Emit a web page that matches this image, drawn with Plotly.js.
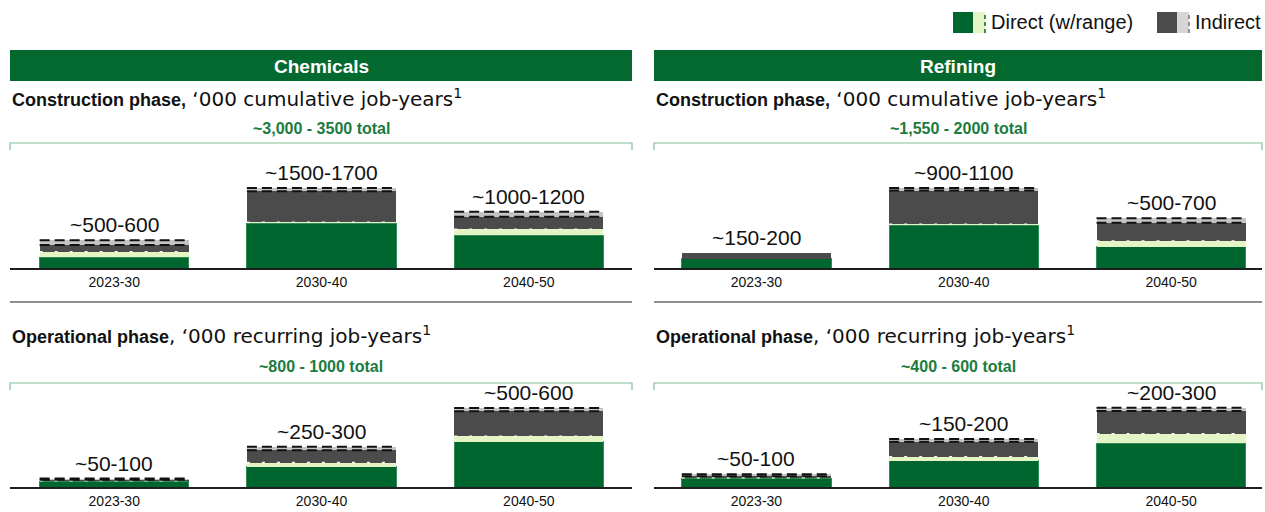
<!DOCTYPE html>
<html>
<head>
<meta charset="utf-8">
<script src="https://cdn.plot.ly/plotly-3.0.1.min.js"></script>
<style>html,body{margin:0;padding:0;background:#fff;}#chart{width:1265px;height:512px;}</style>
</head>
<body>
<div id="chart"></div>
<script>
// ---------------- DATA ----------------
const categories = ['2023-30', '2030-40', '2040-50'];

// Chemicals – construction phase ('000 cumulative job-years)
const chemConsDirect        = [227, 950, 701];
const chemConsDirectRange   = [119, 20, 121];
const chemConsIndirect      = [142, 660, 268];
const chemConsIndirectRange = [100, 70, 106];
const chemConsLabels        = ['~500-600', '~1500-1700', '~1000-1200'];
const chemConsTotal         = '~3,000 - 3500 total';

// Refining – construction phase
const refConsDirect        = [124, 590, 293];
const refConsDirectRange   = [0, 10, 78];
const refConsIndirect      = [78, 465, 252];
const refConsIndirectRange = [0, 35, 62];
const refConsLabels        = ['~150-200', '~900-1100', '~500-700'];
const refConsTotal         = '~1,550 - 2000 total';

// Chemicals – operational phase ('000 recurring job-years)
const chemOpDirect        = [45, 153, 345];
const chemOpDirectRange   = [3, 33, 41];
const chemOpIndirect      = [8, 94, 189];
const chemOpIndirectRange = [8, 26, 26];
const chemOpLabels        = ['~50-100', '~250-300', '~500-600'];
const chemOpTotal         = '~800 - 1000 total';

// Refining – operational phase
const refOpDirect        = [33, 100, 166];
const refOpDirectRange   = [2, 15, 36];
const refOpIndirect      = [6, 57, 86];
const refOpIndirectRange = [7, 10, 13];
const refOpLabels        = ['~50-100', '~150-200', '~200-300'];
const refOpTotal         = '~400 - 600 total';

const sectorNames = ['Chemicals', 'Refining'];
const legendNames = ['Direct (w/range)', 'Indirect'];

// ---------------- STYLE ----------------
const W = 1265, H = 512;
const FONT = 'Liberation Sans, Arial, sans-serif';
const FONT_WIDE = 'DejaVu Sans, Liberation Sans, sans-serif';
const C = {
  dg: '#00662f', lg: '#e4f4c4', gray: '#4b4b4b', lgray: '#c4c4c4',
  header: '#04692f', totalTxt: '#1b7b40', bracket: '#7fbf96', sep: '#8e8e8e'
};
const BARW = 0.72;
const px = x => x / W;
const py = y => 1 - y / H;

const panels = [
  {ax: '', d: chemConsDirect, dr: chemConsDirectRange, i: chemConsIndirect, ir: chemConsIndirectRange, labels: chemConsLabels,
   xdom: [10, 632], xr: [-0.503, 2.498], ydom: [268, 150], yr: 2508},
  {ax: '2', d: refConsDirect, dr: refConsDirectRange, i: refConsIndirect, ir: refConsIndirectRange, labels: refConsLabels,
   xdom: [654, 1262], xr: [-0.494, 2.438], ydom: [268, 150], yr: 1622},
  {ax: '3', d: chemOpDirect, dr: chemOpDirectRange, i: chemOpIndirect, ir: chemOpIndirectRange, labels: chemOpLabels,
   xdom: [10, 632], xr: [-0.503, 2.498], ydom: [487, 390], yr: 737},
  {ax: '4', d: refOpDirect, dr: refOpDirectRange, i: refOpIndirect, ir: refOpIndirectRange, labels: refOpLabels,
   xdom: [654, 1262], xr: [-0.494, 2.438], ydom: [487, 390], yr: 368}
];

const traces = [];
const annotations = [];
const shapes = [];
const layout = {
  width: W, height: H, margin: {l: 0, r: 0, t: 0, b: 0},
  paper_bgcolor: '#fff', plot_bgcolor: 'rgba(0,0,0,0)',
  barmode: 'stack', showlegend: false,
  font: {family: FONT, color: '#111'}
};

const xs = categories.map((_, k) => k);

function dashTrace(ax, yvals, mask, color, width, dash) {
  const x = [], y = [];
  yvals.forEach((v, k) => {
    if (!mask[k]) return;
    x.push(k - BARW / 2, k + BARW / 2, null);
    y.push(v, v, null);
  });
  return {type: 'scatter', mode: 'lines', x, y, xaxis: 'x' + ax, yaxis: 'y' + ax,
          line: {color, width, dash}, hoverinfo: 'skip'};
}

panels.forEach(p => {
  const xa = 'x' + p.ax, ya = 'y' + p.ax;
  const common = {type: 'bar', x: xs, width: BARW, xaxis: xa, yaxis: ya, hoverinfo: 'skip'};
  traces.push(Object.assign({}, common, {y: p.d, marker: {color: C.dg, line: {color: '#2f8c52', width: 1}}}));
  traces.push(Object.assign({}, common, {y: p.dr, marker: {color: C.lg, line: {width: 0}}}));
  traces.push(Object.assign({}, common, {y: p.i, marker: {color: C.gray, line: {width: 0}}}));
  traces.push(Object.assign({}, common, {y: p.ir, marker: {color: C.lgray, line: {width: 0}}}));

  const dTop = p.d.map((v, k) => v + p.dr[k]);
  const iLow = p.d.map((v, k) => v + p.dr[k] + p.i[k]);
  const tot = iLow.map((v, k) => v + p.ir[k]);
  traces.push(dashTrace(p.ax, dTop, p.dr.map(v => v > 0), '#f6fbe9', 1.5, '3px,12px'));
  traces.push(dashTrace(p.ax, iLow, p.ir.map(v => v > 0), '#111', 2, '10px,5px'));
  traces.push(dashTrace(p.ax, tot, p.ir.map(v => v > 0), '#111', 2, '10px,5px'));

  p.labels.forEach((t, k) => {
    annotations.push({x: k, y: tot[k], xref: xa, yref: ya, text: t, showarrow: false,
      yanchor: 'bottom', yshift: 2, font: {size: 21, family: FONT, color: '#111'}});
  });

  layout['xaxis' + p.ax] = {
    domain: [px(p.xdom[0]), px(p.xdom[1])], range: p.xr, anchor: ya,
    tickvals: xs, ticktext: categories, ticks: '', showgrid: false, zeroline: false,
    showline: true, linecolor: '#1e1e1e', linewidth: 1.5, fixedrange: true,
    tickfont: {size: 14, family: FONT, color: '#111'}, ticklabelstandoff: 1
  };
  layout['yaxis' + p.ax] = {
    domain: [py(p.ydom[0]), py(p.ydom[1])], range: [0, p.yr], anchor: xa,
    visible: false, fixedrange: true
  };
});

// ---------------- DECORATION ----------------
function paperText(x, y, text, size, color, xanchor) {
  annotations.push({xref: 'paper', yref: 'paper', x: px(x), y: py(y), text, showarrow: false,
    xanchor: xanchor || 'center', yanchor: 'middle', font: {size, family: FONT, color}});
}
const panelX = [[10, 632], [654, 1262]];
const totals = [[chemConsTotal, chemOpTotal], [refConsTotal, refOpTotal]];
const wide = t => `<span style="font-family:${FONT_WIDE};font-size:20px">${t}</span>`;
panelX.forEach((pxr, s) => {
  const cx = (pxr[0] + pxr[1]) / 2;
  // header bar
  shapes.push({type: 'rect', xref: 'paper', yref: 'paper', x0: px(pxr[0]), x1: px(pxr[1]),
    y0: py(81), y1: py(50), fillcolor: C.header, line: {width: 0}});
  paperText(cx, 66, '<b>' + sectorNames[s] + '</b>', 19, '#fff');
  // subtitles
  paperText(pxr[0], 98, '<b>Construction phase,</b>' + wide(' ‘000 cumulative job-years<sup>1</sup>'), 18, '#111', 'left');
  paperText(pxr[0], 335, '<b>Operational phase</b>' + wide(', ‘000 recurring job-years<sup>1</sup>'), 18, '#111', 'left');
  // totals + brackets
  [[128, 143, 150, totals[s][0]], [366, 383, 390, totals[s][1]]].forEach(b => {
    paperText(cx, b[0], '<b>' + b[3] + '</b>', 16, C.totalTxt);
    shapes.push({type: 'path', xref: 'paper', yref: 'paper',
      path: `M ${px(pxr[0])},${py(b[2])} L ${px(pxr[0])},${py(b[1])} L ${px(pxr[1])},${py(b[1])} L ${px(pxr[1])},${py(b[2])}`,
      line: {color: C.bracket, width: 1.2}});
  });
  // separator
  shapes.push({type: 'line', xref: 'paper', yref: 'paper', x0: px(pxr[0]), x1: px(pxr[1]),
    y0: py(302), y1: py(302), line: {color: C.sep, width: 2}});
});

// Legend (top right)
function legendIcon(x0, dark, light, edge) {
  shapes.push({type: 'rect', xref: 'paper', yref: 'paper', x0: px(x0), x1: px(x0 + 20), y0: py(33), y1: py(12),
    fillcolor: dark, line: {width: 0}});
  shapes.push({type: 'rect', xref: 'paper', yref: 'paper', x0: px(x0 + 20), x1: px(x0 + 32), y0: py(33), y1: py(12),
    fillcolor: light, line: {width: 0}});
  shapes.push({type: 'line', xref: 'paper', yref: 'paper', x0: px(x0 + 32), x1: px(x0 + 32), y0: py(33), y1: py(12),
    line: {color: edge, width: 1.5, dash: '4px,3px'}});
}
legendIcon(953, C.dg, C.lg, C.dg);
legendIcon(1157, C.gray, '#d6d6d6', '#777');
paperText(989, 22, legendNames[0], 20, '#111', 'left');
paperText(1193, 22, legendNames[1], 20, '#111', 'left');

layout.annotations = annotations;
layout.shapes = shapes;

Plotly.newPlot('chart', traces, layout, {staticPlot: true, displayModeBar: false});
</script>
</body>
</html>
